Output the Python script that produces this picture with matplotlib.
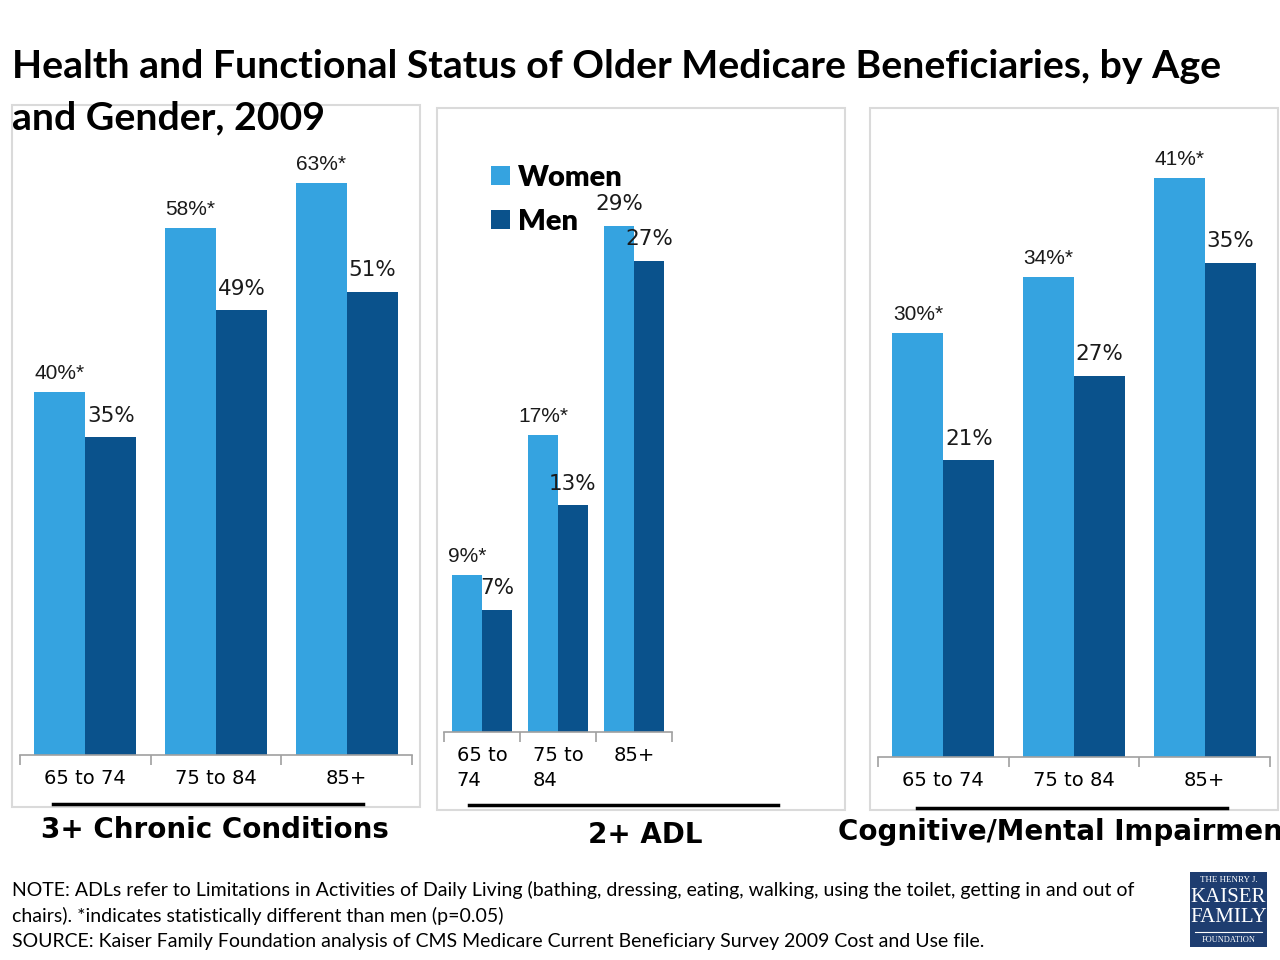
#!/usr/bin/env python3
"""Health and functional status of older Medicare beneficiaries, by age and gender (2009)."""
import matplotlib
matplotlib.use("Agg")
import matplotlib.pyplot as plt
from matplotlib.patches import Rectangle, Patch
from matplotlib.lines import Line2D

# Data
AGE_GROUPS = ["65 to 74", "75 to 84", "85+"]
AGE_GROUPS_WRAPPED = ["65 to\n74", "75 to\n84", "85+"]
PANEL_TITLES = ["3+ Chronic Conditions", "2+ ADL", "Cognitive/Mental Impairment"]
CHRONIC_WOMEN = [40, 58, 63]
CHRONIC_MEN = [35, 49, 51]
ADL_WOMEN = [9, 17, 29]
ADL_MEN = [7, 13, 27]
COGNITIVE_WOMEN = [30, 34, 41]
COGNITIVE_MEN = [21, 27, 35]
# significance marker (women vs men, p=0.05)
CHRONIC_SIG = [True, True, True]
ADL_SIG = [True, True, False]
COGNITIVE_SIG = [True, True, True]

TITLE_LINES = ["Health and Functional Status of Older Medicare Beneficiaries, by Age",
               "and Gender, 2009"]
NOTES = [
    "NOTE: ADLs refer to Limitations in Activities of Daily Living (bathing, dressing, eating, walking, using the toilet, getting in and out of",
    "chairs). *indicates statistically different than men (p=0.05)",
    "SOURCE: Kaiser Family Foundation analysis of CMS Medicare Current Beneficiary Survey 2009 Cost and Use file.",
]

WOMEN_COLOR = "#35A3E0"
MEN_COLOR = "#0A528C"
FRAME_COLOR = "#DADADA"
AXIS_COLOR = "#A0A0A0"

W, H = 1280, 960


def fx(x):
    return x / W


def fy(y):
    return 1 - y / H


def add_panel(fig, x0, x1, base, px_per_pct, ymax, women, men, sig, labels):
    height = ymax * px_per_pct
    ax = fig.add_axes([fx(x0), fy(base), (x1 - x0) / W, height / H])
    xs = list(range(len(women)))
    bw = 0.39
    ax.bar([x - bw / 2 for x in xs], women, width=bw, color=WOMEN_COLOR)
    ax.bar([x + bw / 2 for x in xs], men, width=bw, color=MEN_COLOR)
    ax.set_xlim(-0.5, len(xs) - 0.5)
    ax.set_ylim(0, ymax)
    for s in ["top", "left", "right"]:
        ax.spines[s].set_visible(False)
    ax.spines["bottom"].set_color(AXIS_COLOR)
    ax.spines["bottom"].set_linewidth(1.2)
    ax.set_yticks([])
    ax.set_xticks(xs)
    ax.set_xticklabels(labels, fontsize=14, family="DejaVu Sans", color="black",
                       multialignment="left", linespacing=1.4)
    ax.tick_params(axis="x", which="major", length=0, pad=10)
    ax.set_xticks([x - 0.5 for x in range(len(xs) + 1)], minor=True)
    ax.tick_params(axis="x", which="minor", length=7, width=1.2, color=AXIS_COLOR)
    for x, w, m, s in zip(xs, women, men, sig):
        if s:
            ax.annotate(f"{w}%*", (x - bw / 2, w), xytext=(0, 13.5), textcoords="offset points",
                        ha="center", va="center", fontsize=15, family="Liberation Sans",
                        color="#1a1a1a", annotation_clip=False)
        else:
            ax.annotate(f"{w}%", (x - bw / 2, w), xytext=(0, 15.5), textcoords="offset points",
                        ha="center", va="center", fontsize=15.5, family="DejaVu Sans",
                        color="#1a1a1a", annotation_clip=False)
        ax.annotate(f"{m}%", (x + bw / 2, m), xytext=(0, 15.5), textcoords="offset points",
                    ha="center", va="center", fontsize=15.5, family="DejaVu Sans",
                    color="#1a1a1a", annotation_clip=False)
    return ax


def main():
    fig = plt.figure(figsize=(12.8, 9.6), dpi=100)

    # panel frames
    for x0, y0, x1, y1 in [(12, 105, 420, 807), (437, 108, 845, 810), (870, 108, 1278, 810)]:
        fig.add_artist(Rectangle((fx(x0), fy(y1)), (x1 - x0) / W, (y1 - y0) / H,
                                 transform=fig.transFigure, fill=False,
                                 edgecolor=FRAME_COLOR, linewidth=1.5))

    add_panel(fig, 20, 412, 755, 9.08, 68, CHRONIC_WOMEN, CHRONIC_MEN, CHRONIC_SIG, AGE_GROUPS)
    add_panel(fig, 444, 672, 732, 17.45, 32, ADL_WOMEN, ADL_MEN, ADL_SIG, AGE_GROUPS_WRAPPED)
    add_panel(fig, 878, 1270, 757, 14.12, 46, COGNITIVE_WOMEN, COGNITIVE_MEN, COGNITIVE_SIG, AGE_GROUPS)

    # legend in middle panel
    handles = [Patch(facecolor=WOMEN_COLOR, label="Women"), Patch(facecolor=MEN_COLOR, label="Men")]
    fig.legend(handles=handles, loc="upper left", bbox_to_anchor=(fx(479), fy(153)),
               frameon=False, prop={"family": "Lato", "weight": "heavy", "size": 21},
               handlelength=0.65, handleheight=0.65, handletextpad=0.3, labelspacing=0.62,
               borderaxespad=0)

    # underlines and panel titles
    for x0, x1, y in [(53, 363, 804), (469, 778, 805), (917, 1227, 808)]:
        fig.add_artist(Line2D([fx(x0), fx(x1)], [fy(y), fy(y)], transform=fig.transFigure,
                              color="black", linewidth=2.5))
    fig.text(fx(215), fy(830), PANEL_TITLES[0], ha="center", va="center",
             fontsize=20, weight="bold", family="DejaVu Sans")
    fig.text(fx(645), fy(835), PANEL_TITLES[1], ha="center", va="center",
             fontsize=20, weight="bold", family="DejaVu Sans")
    fig.text(fx(838), fy(832), PANEL_TITLES[2], ha="left", va="center",
             fontsize=20, weight="bold", family="DejaVu Sans")

    # title
    for y, line in zip([67, 118], TITLE_LINES):
        fig.text(fx(12), fy(y), line, ha="left", va="center", fontsize=28.3, weight="bold",
                 family="Lato", color="black")
    # notes
    for i, line in enumerate(NOTES):
        fig.text(fx(12), fy(890 + i * 25.5), line, ha="left", va="center", fontsize=14,
                 family="Lato", color="black")

    # logo
    fig.add_artist(Rectangle((fx(1190), fy(947)), 77 / W, 75 / H, transform=fig.transFigure,
                             facecolor="#1E3D70", edgecolor="none"))
    cx = fx(1228.5)
    fig.text(cx, fy(880), "THE HENRY J.", ha="center", va="center", color="white",
             fontsize=6.5, family="Liberation Serif")
    fig.text(cx, fy(898), "KAISER", ha="center", va="center", color="white",
             fontsize=15, family="Liberation Serif")
    fig.text(cx, fy(918), "FAMILY", ha="center", va="center", color="white",
             fontsize=15, family="Liberation Serif")
    fig.add_artist(Line2D([fx(1195), fx(1262)], [fy(932), fy(932)], transform=fig.transFigure,
                          color="white", linewidth=0.8))
    fig.text(cx, fy(940), "FOUNDATION", ha="center", va="center", color="white",
             fontsize=6, family="Liberation Serif")

    fig.savefig("out.png", dpi=100)
    plt.close(fig)


if __name__ == "__main__":
    main()
